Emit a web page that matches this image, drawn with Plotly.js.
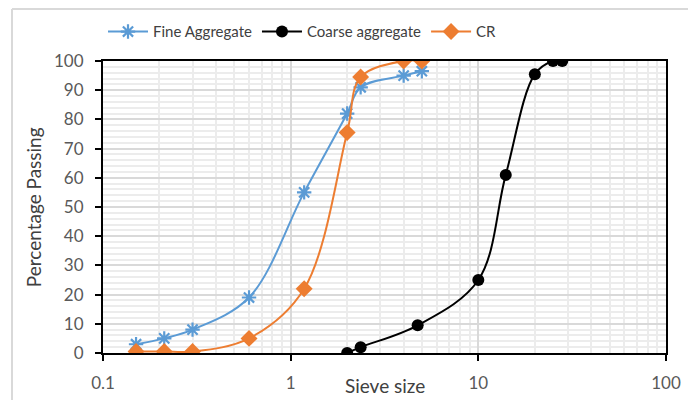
<!DOCTYPE html>
<html>
<head>
<meta charset="utf-8">
<script src="https://cdn.plot.ly/plotly-3.0.1.min.js"></script>
<style>
  html, body { margin: 0; padding: 0; background: #fff; }
  #chart { width: 688px; height: 400px; }
</style>
</head>
<body>
<div id="chart"></div>
<script>
// Sieve analysis: particle size (mm) vs cumulative percentage passing
const fineSize     = [0.15, 0.212, 0.3, 0.6, 1.18, 2, 2.36, 4, 5];
const finePassing  = [3, 5, 8, 19, 55, 82, 91, 95, 96.5];

const coarseSize    = [2, 2.36, 4.75, 10, 14, 20, 25, 28];
const coarsePassing = [0, 2, 9.5, 25, 61, 95.5, 100, 100];

const crSize    = [0.15, 0.212, 0.3, 0.6, 1.18, 2, 2.36, 4, 5];
const crPassing = [0.5, 0.5, 0.5, 5, 22, 75.5, 94.5, 100, 100];

const xTickVals = [0.1, 1, 10, 100];
const xTickText = ['0.1', '1', '10', '100'];

const xTitle = 'Sieve size';
const yTitle = 'Percentage Passing';

const FONT = 'Lato, "Open Sans", sans-serif';
const TEXT_COLOR = '#595959';
const TITLE_COLOR = '#404040';

const traces = [
  {
    name: 'Fine Aggregate',
    x: fineSize, y: finePassing,
    mode: 'lines+markers',
    line: { color: '#5b9bd5', width: 2, shape: 'spline', smoothing: 1 },
    marker: { symbol: 'asterisk-open', size: 12, color: '#5b9bd5', line: { color: '#5b9bd5', width: 2.2 } }
  },
  {
    name: 'Coarse aggregate',
    x: coarseSize, y: coarsePassing,
    mode: 'lines+markers',
    line: { color: '#000000', width: 2, shape: 'spline', smoothing: 1 },
    marker: { symbol: 'circle', size: 12, color: '#000000' }
  },
  {
    name: 'CR',
    x: crSize, y: crPassing,
    mode: 'lines+markers',
    line: { color: '#ed7d31', width: 2, shape: 'spline', smoothing: 1 },
    marker: { symbol: 'diamond', size: 13, color: '#ed7d31' }
  }
];

const commonAxis = {
  ticks: 'outside',
  ticklen: 6,
  tickwidth: 2,
  tickcolor: '#000000',
  ticklabelstandoff: 8,
  showline: true,
  linecolor: '#000000',
  linewidth: 2,
  mirror: true,
  showgrid: true,
  gridcolor: '#d9d9d9',
  gridwidth: 2,
  zeroline: false,
  tickfont: { family: FONT, size: 17, color: TEXT_COLOR }
};

const layout = {
  width: 688,
  height: 400,
  margin: { l: 103, r: 22, t: 61, b: 47 },
  paper_bgcolor: '#ffffff',
  plot_bgcolor: '#ffffff',
  font: { family: FONT, size: 15, color: TEXT_COLOR },
  showlegend: true,
  legend: {
    orientation: 'h',
    x: 0.0, xanchor: 'left',
    y: 1.1, yanchor: 'middle',
    font: { family: FONT, size: 15, color: TITLE_COLOR },
    bgcolor: 'rgba(0,0,0,0)',
    itemwidth: 40,
    tracegroupgap: 0
  },
  xaxis: Object.assign({}, commonAxis, {
    type: 'log',
    range: [-1, 2],
    tickvals: xTickVals,
    ticktext: xTickText,
    minor: { dtick: 'D1', showgrid: true, gridcolor: '#ececec', gridwidth: 2, ticks: '' }
  }),
  yaxis: Object.assign({}, commonAxis, {
    range: [0, 100],
    dtick: 10,
    minor: { dtick: 2, showgrid: true, gridcolor: '#ececec', gridwidth: 2, ticks: '' }
  }),
  annotations: [
    { text: xTitle, xref: 'paper', yref: 'paper', x: 0.5, y: -0.112,
      xanchor: 'center', yanchor: 'middle', showarrow: false,
      font: { family: FONT, size: 19, color: TITLE_COLOR } },
    { text: yTitle, xref: 'paper', yref: 'paper', x: -0.124, y: 0.5, textangle: -90,
      xanchor: 'center', yanchor: 'middle', showarrow: false,
      font: { family: FONT, size: 19, color: TITLE_COLOR } }
  ],
  shapes: [
    // chart-area frame (left and top edges)
    { type: 'line', xref: 'paper', yref: 'paper', x0: -0.1616, x1: -0.1616, y0: -0.2, y1: 1.178,
      line: { color: '#d9d9d9', width: 2 }, layer: 'below' },
    { type: 'line', xref: 'paper', yref: 'paper', x0: -0.1616, x1: 1.1, y0: 1.178, y1: 1.178,
      line: { color: '#d9d9d9', width: 2 }, layer: 'below' }
  ]
};

Plotly.newPlot('chart', traces, layout, { displayModeBar: false, staticPlot: true });
</script>
</body>
</html>
